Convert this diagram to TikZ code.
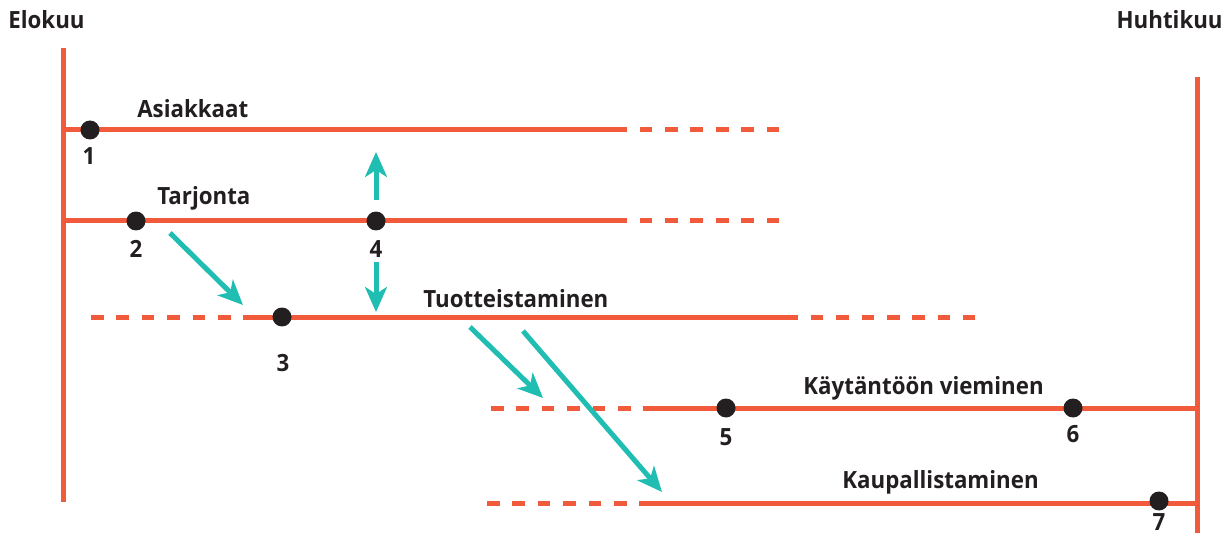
\documentclass[tikz,border=0pt]{standalone}
\usepackage{fontspec}
\setmainfont{Open Sans}[FakeStretch=0.94]
\usetikzlibrary{calc,positioning,arrows.meta}
\definecolor{phasered}{HTML}{F15A3B}
\definecolor{flowteal}{HTML}{1FBDB2}
\definecolor{inkblack}{HTML}{231F20}
\tikzset{
  phaseline/.style={draw=phasered,line width=0.1cm},
  dashfirst/.style={phaseline,dash pattern=on 0.254cm off 0.254cm},
  gapfirst/.style={dashfirst,dash phase=0.254cm},
  milestone/.style={circle,fill=inkblack,inner sep=0pt,minimum size=0.38cm},
  phasename/.style={anchor=base west,inner sep=0pt,text=inkblack,font=\bfseries\fontsize{13.5pt}{16pt}\selectfont},
  nummer/.style={anchor=base,inner sep=0pt,text=inkblack,font=\bfseries\fontsize{13.5pt}{16pt}\selectfont},
  flow/.style={draw=flowteal,line width=0.1cm,-{Stealth[length=0.5cm,width=0.44cm,inset=0.14cm]}}
}
\begin{document}
\begin{tikzpicture}[x=0.02cm,y=-0.02cm]
\useasboundingbox (0,0) rectangle (1229,533);
% months
\node[phasename] at (8,29) {Elokuu};
\node[phasename,anchor=base east] at (1223,29) {Huhtikuu};
\coordinate (elotop) at (63,48);
\coordinate (elobot) at (63,502);
\coordinate (huhtop) at (1197,77);
\coordinate (huhbot) at (1197,545);
\draw[phaseline] (elotop) -- (elobot);
\draw[phaseline] (huhtop) -- (huhbot);
% Asiakkaat
\coordinate (a1) at (63,130);
\coordinate (a2) at (627,130);
\coordinate (a3) at (780,130);
\draw[phaseline] (a1) -- (a2);
\draw[gapfirst] (a2) -- (a3);
\node[phasename] at (137,118) {Asiakkaat};
% Tarjonta
\coordinate (b1) at (63,221);
\coordinate (b2) at (627,221);
\coordinate (b3) at (780,221);
\draw[phaseline] (b1) -- (b2);
\draw[gapfirst] (b2) -- (b3);
\node[phasename] at (157,205) {Tarjonta};
% Tuotteistaminen
\coordinate (c1) at (91,317);
\coordinate (c2) at (243,317);
\coordinate (c3) at (798,317);
\coordinate (c4) at (975,317);
\draw[dashfirst] (c1) -- (c2);
\draw[phaseline] (c2) -- (c3);
\draw[gapfirst] (c3) -- (c4);
\node[phasename] at (423,307) {Tuotteistaminen};
% Kaytantoon vieminen
\coordinate (d1) at (491,408);
\coordinate (d2) at (643,408);
\coordinate (d3) at (1197,408);
\draw[dashfirst] (d1) -- (d2);
\draw[phaseline] (d2) -- (d3);
\node[phasename] at (803,394) {Käytäntöön vieminen};
% Kaupallistaminen
\coordinate (e1) at (487,503);
\coordinate (e2) at (640,503);
\coordinate (e3) at (1197,503);
\draw[dashfirst] (e1) -- (e2);
\draw[phaseline] (e2) -- (e3);
\node[phasename] at (842,488) {Kaupallistaminen};
% milestones
\node[milestone] (p1) at (90,130) {};
\node[milestone] (p2) at (136,221) {};
\node[milestone] (p3) at (282,317) {};
\node[milestone] (p4) at (376,221) {};
\node[milestone] (p5) at (726,408) {};
\node[milestone] (p6) at (1073,408) {};
\node[milestone] (p7) at (1159,501) {};
\node[nummer] at ($(p1)+(-1,35)$) {1};
\node[nummer] at ($(p2)+(0,36)$) {2};
\node[nummer] at ($(p3)+(1,54)$) {3};
\node[nummer] at ($(p4)+(0,36)$) {4};
\node[nummer] at ($(p5)+(0,37)$) {5};
\node[nummer] at ($(p6)+(0,34)$) {6};
\node[nummer] at ($(p7)+(0,29)$) {7};
% flows
\coordinate (f1s) at (170,233);
\coordinate (f1e) at (243,305);
\coordinate (f2s) at (376,200);
\coordinate (f2e) at (376,152);
\coordinate (f3s) at (376,262);
\coordinate (f3e) at (376,312);
\coordinate (f4s) at (470,327);
\coordinate (f4e) at (543,398);
\coordinate (f5s) at (523,331);
\coordinate (f5e) at (662,492);
\draw[flow] (f1s) -- (f1e);
\draw[flow] (f2s) -- (f2e);
\draw[flow] (f3s) -- (f3e);
\draw[flow] (f4s) -- (f4e);
\draw[flow] (f5s) -- (f5e);
\end{tikzpicture}
\end{document}
